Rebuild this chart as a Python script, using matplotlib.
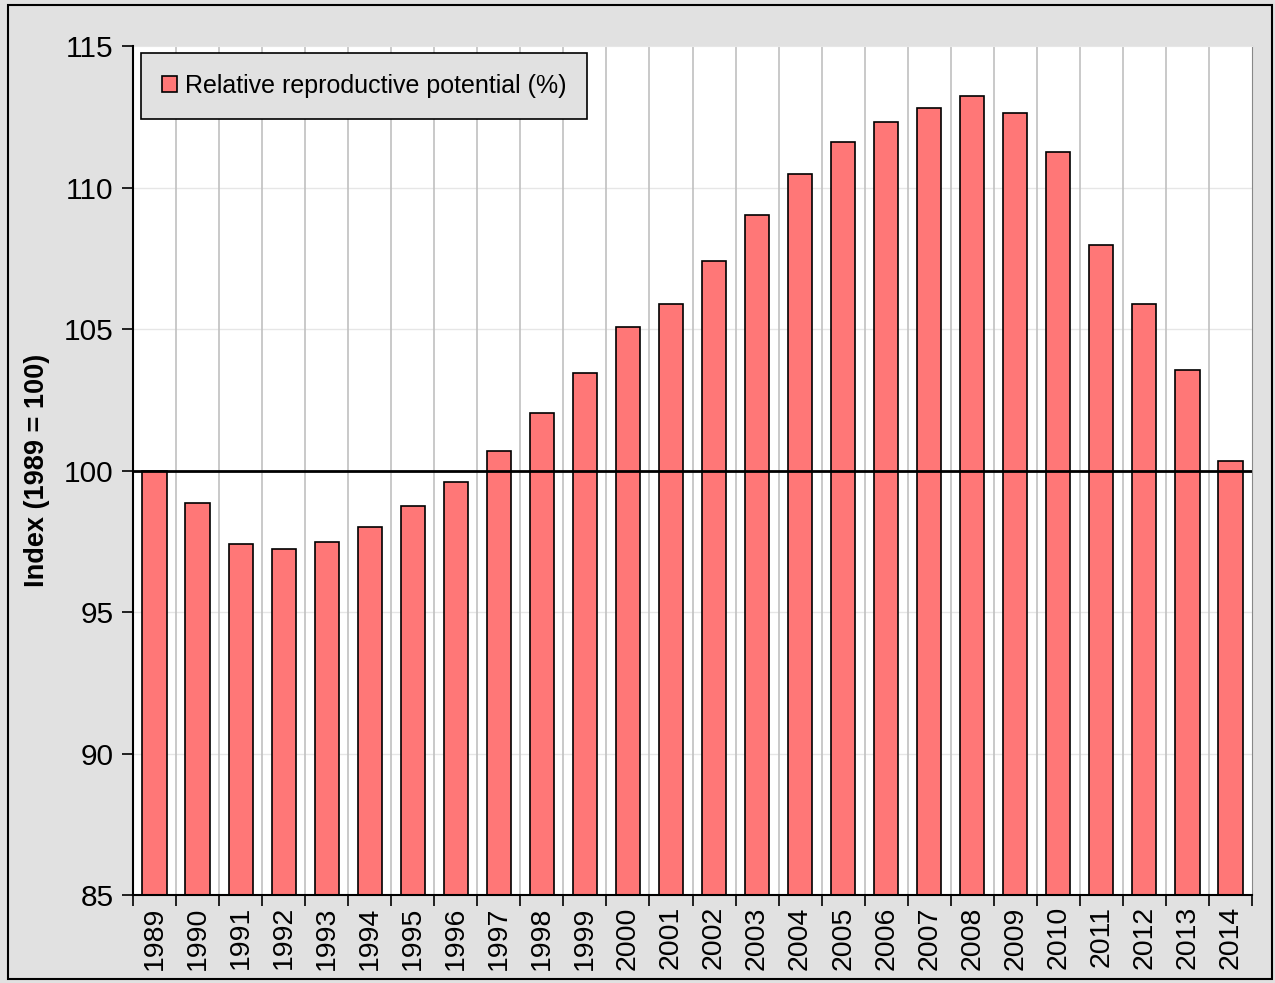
import numpy as np
import matplotlib.pyplot as plt
from matplotlib.patches import Rectangle

plt.rcParams['font.family'] = ['Liberation Sans', 'DejaVu Sans']

# Дані
years = [str(y) for y in range(1989, 2015)]
values = [100.0, 98.85, 97.4, 97.23, 97.47, 98.0, 98.75, 99.6, 100.69, 102.03,
          103.45, 105.07, 105.88, 107.4, 109.03, 110.48, 111.61, 112.31, 112.81,
          113.23, 112.63, 111.25, 107.97, 105.88, 103.55, 100.34]
series_name = 'Relative reproductive potential (%)'

bg = '#e1e1e1'
fig = plt.figure(figsize=(12.75, 9.83), dpi=100, facecolor=bg)
ax = fig.add_axes([0.1043, 0.0895, 0.8777, 0.8637])
ax.set_facecolor('white')

x = np.arange(len(years))
ax.bar(x, values, width=0.56, bottom=0, color='#ff7777', edgecolor='black',
       linewidth=1.2, label=series_name, zorder=3)

ax.set_xlim(-0.5, len(years) - 0.5)
ax.set_ylim(85, 115)
ax.set_yticks(np.arange(85, 116, 5))
ax.tick_params(axis='y', labelsize=21.5, length=8, width=1.2, direction='out', pad=6)

# позначки між категоріями
ax.set_xticks(np.arange(-0.5, len(years), 1.0))
ax.set_xticklabels([])
ax.set_xticks(x, minor=True)
ax.set_xticklabels(years, minor=True, rotation=90, fontsize=20.5)
ax.tick_params(axis='x', which='minor', length=0, pad=8)
ax.tick_params(axis='x', which='major', length=8, width=1.2, direction='out')

# сітка
for b in np.arange(0.5, len(years) - 0.5, 1.0):
    ax.axvline(b, color='#c0c0c0', lw=1.2, zorder=1)
for yv in [90, 95, 105, 110]:
    ax.axhline(yv, color='#e6e6e6', lw=1, zorder=0)
ax.axhline(100, color='black', lw=2, zorder=4)

for s in ['left', 'bottom']:
    ax.spines[s].set_linewidth(1.5)
    ax.spines[s].set_zorder(5)
ax.spines['top'].set_color('#e6e6e6')
ax.spines['right'].set_color('#888888')

ax.set_ylabel('Index (1989 = 100)', fontsize=19.5, fontweight='bold', labelpad=10)

leg = ax.legend(loc='upper left', bbox_to_anchor=(0.007, 0.992), fontsize=18,
                fancybox=False, framealpha=1, facecolor=bg, edgecolor='black',
                handlelength=0.6, handleheight=0.6, handletextpad=0.3,
                borderpad=0.85, borderaxespad=0)
leg.get_frame().set_linewidth(1.2)

fig.patches.append(Rectangle((0.006, 0.004), 0.992, 0.991, transform=fig.transFigure,
                             fill=False, edgecolor='black', lw=1.5))

fig.savefig('out.png', dpi=100, facecolor=bg)
